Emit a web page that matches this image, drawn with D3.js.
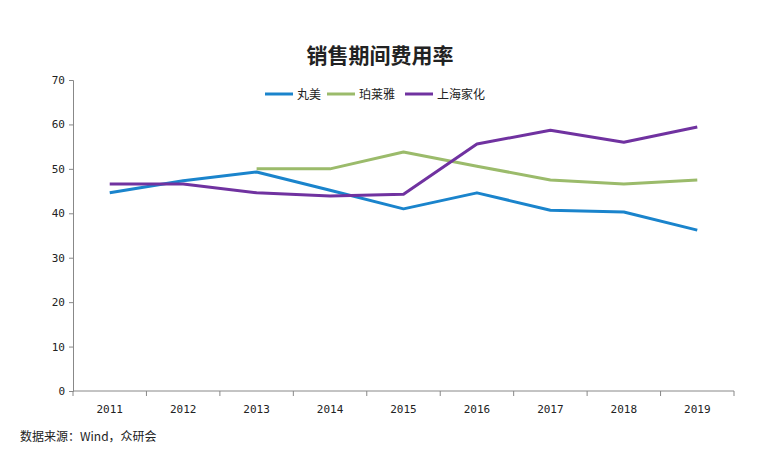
<!DOCTYPE html>
<html>
<head>
<meta charset="utf-8">
<script src="https://cdn.jsdelivr.net/npm/d3@7.9.0/dist/d3.min.js"></script>
<style>
  body { margin: 0; background: #fff; }
  svg { font-family: "Noto Sans CJK SC", sans-serif; }
</style>
</head>
<body>
<svg id="chart" width="758" height="472"></svg>
<script>
const years = ["2011", "2012", "2013", "2014", "2015", "2016", "2017", "2018", "2019"];
const marubi = [44.6, 47.3, 49.3, 45.2, 41.0, 44.6, 40.7, 40.3, 36.2];
const proya = [null, null, 50.0, 50.0, 53.8, 50.6, 47.5, 46.6, 47.5];
const jahwa = [46.6, 46.6, 44.6, 43.9, 44.3, 55.6, 58.7, 56.0, 59.4];
const seriesNames = ["丸美", "珀莱雅", "上海家化"];
const yTicks = [0, 10, 20, 30, 40, 50, 60, 70];

const series = [
  { name: seriesNames[0], values: marubi, color: "#1a84cc" },
  { name: seriesNames[1], values: proya, color: "#9bbb6b" },
  { name: seriesNames[2], values: jahwa, color: "#7032a0" }
];

const svg = d3.select("#chart");
const margin = { top: 80, right: 24, bottom: 81, left: 73 };
const width = +svg.attr("width");
const height = +svg.attr("height");

const x = d3.scaleBand()
  .domain(years)
  .range([margin.left, width - margin.right]);

const y = d3.scaleLinear()
  .domain([0, 70])
  .range([height - margin.bottom, margin.top]);

// title
svg.append("text")
  .attr("x", 380)
  .attr("y", 63)
  .attr("text-anchor", "middle")
  .attr("font-size", 21)
  .attr("font-weight", "bold")
  .attr("fill", "#222")
  .text("销售期间费用率");

// y axis
const yAxis = svg.append("g")
  .attr("transform", `translate(${margin.left},0)`)
  .call(d3.axisLeft(y).tickValues(yTicks).tickSize(4).tickPadding(4));
yAxis.select(".domain").attr("stroke", "#888");
yAxis.selectAll(".tick line").attr("stroke", "#888");
yAxis.selectAll(".tick text")
  .attr("font-family", "'DejaVu Sans Mono', monospace")
  .attr("font-size", 11).attr("fill", "#222");

// x axis: ticks at category boundaries
const xg = svg.append("g")
  .attr("transform", `translate(0,${y(0)})`);
xg.append("line")
  .attr("x1", margin.left).attr("x2", width - margin.right)
  .attr("stroke", "#888");
const bounds = years.map(d => x(d)).concat([x(years[years.length - 1]) + x.bandwidth()]);
xg.selectAll(".bt").data(bounds).join("line")
  .attr("x1", d => d).attr("x2", d => d)
  .attr("y1", 0).attr("y2", 5)
  .attr("stroke", "#888");
xg.selectAll(".lbl").data(years).join("text")
  .attr("x", d => x(d) + x.bandwidth() / 2)
  .attr("y", 22)
  .attr("text-anchor", "middle")
  .attr("font-family", "'DejaVu Sans Mono', monospace")
  .attr("font-size", 11)
  .attr("fill", "#222")
  .text(d => d);

// lines
const line = d3.line()
  .defined(d => d != null)
  .x((d, i) => x(years[i]) + x.bandwidth() / 2)
  .y(d => y(d));

series.forEach(s => {
  svg.append("path")
    .datum(s.values)
    .attr("fill", "none")
    .attr("stroke", s.color)
    .attr("stroke-width", 3)
    .attr("stroke-linejoin", "round")
    .attr("d", line);
});

// legend
const legendX = [265, 327, 405];
const lg = svg.append("g").attr("transform", "translate(0,94)");
series.forEach((s, i) => {
  lg.append("line")
    .attr("x1", legendX[i]).attr("x2", legendX[i] + 28)
    .attr("stroke", s.color).attr("stroke-width", 3);
  lg.append("text")
    .attr("x", legendX[i] + 32)
    .attr("y", 4.5)
    .attr("font-size", 12)
    .attr("fill", "#222")
    .text(s.name);
});

// source
svg.append("text")
  .attr("x", 20)
  .attr("y", 441)
  .attr("font-size", 12)
  .attr("fill", "#222")
  .text("数据来源：Wind，众研会");
</script>
</body>
</html>
